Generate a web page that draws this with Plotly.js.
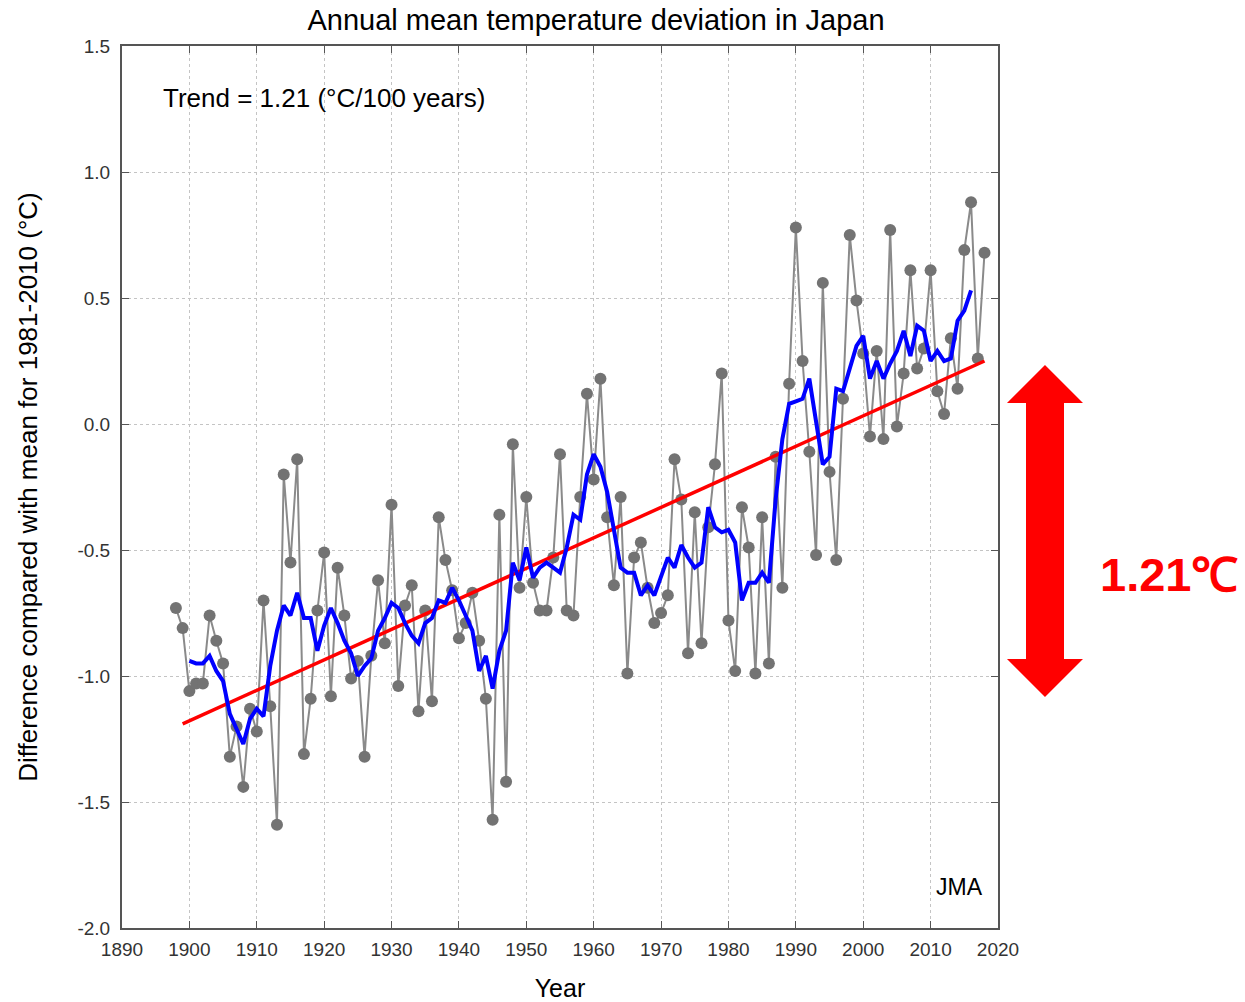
<!DOCTYPE html>
<html>
<head>
<meta charset="utf-8">
<script src="https://cdn.plot.ly/plotly-3.0.1.min.js"></script>
<style>
  html, body { margin: 0; padding: 0; background: #ffffff; }
  #chart { width: 1245px; height: 1002px; }
</style>
</head>
<body>
<div id="chart"></div>
<script>
// ---------- data ----------
const years = [
  1898,1899,1900,1901,1902,1903,1904,1905,1906,1907,1908,1909,1910,1911,1912,1913,1914,1915,1916,1917,
  1918,1919,1920,1921,1922,1923,1924,1925,1926,1927,1928,1929,1930,1931,1932,1933,1934,1935,1936,1937,
  1938,1939,1940,1941,1942,1943,1944,1945,1946,1947,1948,1949,1950,1951,1952,1953,1954,1955,1956,1957,
  1958,1959,1960,1961,1962,1963,1964,1965,1966,1967,1968,1969,1970,1971,1972,1973,1974,1975,1976,1977,
  1978,1979,1980,1981,1982,1983,1984,1985,1986,1987,1988,1989,1990,1991,1992,1993,1994,1995,1996,1997,
  1998,1999,2000,2001,2002,2003,2004,2005,2006,2007,2008,2009,2010,2011,2012,2013,2014,2015,2016,2017,
  2018
];
const annualDeviation = [
  -0.73,-0.81,-1.06,-1.03,-1.03,-0.76,-0.86,-0.95,-1.32,-1.20,-1.44,-1.13,-1.22,-0.70,-1.12,-1.59,-0.20,-0.55,-0.14,-1.31,
  -1.09,-0.74,-0.51,-1.08,-0.57,-0.76,-1.01,-0.94,-1.32,-0.92,-0.62,-0.87,-0.32,-1.04,-0.72,-0.64,-1.14,-0.74,-1.10,-0.37,
  -0.54,-0.66,-0.85,-0.79,-0.67,-0.86,-1.09,-1.57,-0.36,-1.42,-0.08,-0.65,-0.29,-0.63,-0.74,-0.74,-0.53,-0.12,-0.74,-0.76,
  -0.29, 0.12,-0.22, 0.18,-0.37,-0.64,-0.29,-0.99,-0.53,-0.47,-0.65,-0.79,-0.75,-0.68,-0.14,-0.30,-0.91,-0.35,-0.87,-0.41,
  -0.16, 0.20,-0.78,-0.98,-0.33,-0.49,-0.99,-0.37,-0.95,-0.13,-0.65, 0.16, 0.78, 0.25,-0.11,-0.52, 0.56,-0.19,-0.54, 0.10,
   0.75, 0.49, 0.28,-0.05, 0.29,-0.06, 0.77,-0.01, 0.20, 0.61, 0.22, 0.30, 0.61, 0.13, 0.04, 0.34, 0.14, 0.69, 0.88, 0.26,
   0.68
];
const meanYears = [
  1900,1901,1902,1903,1904,1905,1906,1907,1908,1909,1910,1911,1912,1913,1914,1915,1916,1917,1918,1919,
  1920,1921,1922,1923,1924,1925,1926,1927,1928,1929,1930,1931,1932,1933,1934,1935,1936,1937,1938,1939,
  1940,1941,1942,1943,1944,1945,1946,1947,1948,1949,1950,1951,1952,1953,1954,1955,1956,1957,1958,1959,
  1960,1961,1962,1963,1964,1965,1966,1967,1968,1969,1970,1971,1972,1973,1974,1975,1976,1977,1978,1979,
  1980,1981,1982,1983,1984,1985,1986,1987,1988,1989,1990,1991,1992,1993,1994,1995,1996,1997,1998,1999,
  2000,2001,2002,2003,2004,2005,2006,2007,2008,2009,2010,2011,2012,2013,2014,2015,2016
];
const fiveYearMean = [
  -0.94,-0.95,-0.95,-0.92,-0.98,-1.02,-1.15,-1.21,-1.27,-1.17,-1.13,-1.16,-0.96,-0.82,-0.72,-0.76,-0.67,-0.77,-0.77,-0.90,
  -0.80,-0.73,-0.79,-0.86,-0.91,-1.00,-0.96,-0.93,-0.82,-0.77,-0.71,-0.73,-0.79,-0.84,-0.87,-0.79,-0.77,-0.70,-0.71,-0.65,
  -0.70,-0.76,-0.82,-0.98,-0.92,-1.05,-0.90,-0.82,-0.55,-0.62,-0.49,-0.61,-0.57,-0.55,-0.57,-0.59,-0.49,-0.36,-0.38,-0.20,
  -0.12,-0.17,-0.27,-0.42,-0.57,-0.59,-0.59,-0.68,-0.64,-0.68,-0.61,-0.53,-0.57,-0.48,-0.53,-0.57,-0.55,-0.33,-0.41,-0.43,
  -0.42,-0.47,-0.70,-0.63,-0.63,-0.59,-0.63,-0.30,-0.06, 0.08, 0.09, 0.10, 0.18, 0.00,-0.16,-0.13, 0.14, 0.13, 0.22, 0.31,
   0.35, 0.18, 0.25, 0.18, 0.24, 0.29, 0.37, 0.27, 0.39, 0.37, 0.25, 0.29, 0.25, 0.26, 0.41, 0.45, 0.53
];
const trendYears = [1899, 2018];
const trendValues = [-1.19, 0.25];

const xTickVals = [1890,1900,1910,1920,1930,1940,1950,1960,1970,1980,1990,2000,2010,2020];
const xTickText = ['1890','1900','1910','1920','1930','1940','1950','1960','1970','1980','1990','2000','2010','2020'];
const yTickVals = [1.5,1.0,0.5,0.0,-0.5,-1.0,-1.5,-2.0];
const yTickText = ['1.5','1.0','0.5','0.0','-0.5','-1.0','-1.5','-2.0'];

const titleText = 'Annual mean temperature deviation in Japan';
const xTitleText = 'Year';
const yTitleText = 'Difference compared with mean for 1981-2010 (°C)';
const trendLabel = 'Trend = 1.21 (°C/100 years)';
const sourceLabel = 'JMA';
const riseLabel = '1.21℃';

// ---------- layout helpers (pixel -> paper) ----------
const W = 1245, H = 1002;
const M = { l: 122, r: 247, t: 46, b: 74 };
const PW = W - M.l - M.r, PH = H - M.t - M.b;
const px = x => (x - M.l) / PW;
const py = y => 1 - (y - M.t) / PH;

const font = 'Liberation Sans, Arial, Helvetica, sans-serif';

const traces = [
  {
    x: years, y: annualDeviation, type: 'scatter', mode: 'lines+markers',
    line: { color: '#8a8a8a', width: 2 },
    marker: { color: '#737373', size: 12 },
    hoverinfo: 'x+y', showlegend: false
  },
  {
    x: trendYears, y: trendValues, type: 'scatter', mode: 'lines',
    line: { color: '#ff0000', width: 3.5 },
    hoverinfo: 'skip', showlegend: false
  },
  {
    x: meanYears, y: fiveYearMean, type: 'scatter', mode: 'lines',
    line: { color: '#0000ff', width: 4 },
    hoverinfo: 'x+y', showlegend: false
  }
];

// double arrow outline in pixels
const arrowPts = [
  [1045,365],[1083,403],[1064,403],[1064,659],[1083,659],
  [1045,697],[1007,659],[1026,659],[1026,403],[1007,403]
];
const arrowPath = 'M ' + arrowPts.map(p => px(p[0]).toFixed(5) + ',' + py(p[1]).toFixed(5)).join(' L ') + ' Z';

const axisCommon = {
  showline: true, linecolor: '#555555', linewidth: 2, mirror: 'ticks',
  ticks: 'inside', ticklen: 7, tickwidth: 1, tickcolor: '#555555',
  showgrid: true, gridcolor: '#c4c4c4', gridwidth: 1, griddash: 'dot',
  zeroline: false, tickmode: 'array',
  tickfont: { family: font, size: 19, color: '#333333' }
};

const layout = {
  width: W, height: H,
  margin: M,
  paper_bgcolor: '#ffffff', plot_bgcolor: '#ffffff',
  showlegend: false,
  title: {
    text: titleText,
    font: { family: font, size: 29, color: '#000000' },
    xref: 'container', x: 596 / W, xanchor: 'center',
    yref: 'container', y: 1 - 20 / H, yanchor: 'middle'
  },
  xaxis: Object.assign({}, axisCommon, {
    range: [1890, 2020],
    tickvals: xTickVals, ticktext: xTickText,
    ticklabelstandoff: 3,
    title: { text: xTitleText, font: { family: font, size: 25, color: '#000000' }, standoff: 22 }
  }),
  yaxis: Object.assign({}, axisCommon, {
    range: [-2.0, 1.5],
    tickvals: yTickVals, ticktext: yTickText,
    ticklabelstandoff: 6,
    title: { text: yTitleText, font: { family: font, size: 26, color: '#000000' }, standoff: 32 }
  }),
  shapes: [
    { type: 'rect', xref: 'paper', yref: 'paper', layer: 'between',
      x0: px(150), x1: px(530), y0: py(132), y1: py(77),
      fillcolor: '#ffffff', line: { width: 0 } },
    { type: 'rect', xref: 'paper', yref: 'paper', layer: 'between',
      x0: px(905), x1: px(992), y0: py(903), y1: py(861),
      fillcolor: '#ffffff', line: { width: 0 } },
    { type: 'path', xref: 'paper', yref: 'paper', layer: 'above',
      path: arrowPath, fillcolor: '#ff0000', line: { width: 0 } }
  ],
  annotations: [
    { text: trendLabel, xref: 'paper', yref: 'paper',
      x: px(161), y: py(98), xanchor: 'left', yanchor: 'middle', showarrow: false,
      font: { family: font, size: 26, color: '#000000' } },
    { text: sourceLabel, xref: 'paper', yref: 'paper',
      x: px(959), y: py(887), xanchor: 'center', yanchor: 'middle', showarrow: false,
      font: { family: font, size: 23, color: '#000000' } },
    { text: '<b>' + riseLabel + '</b>', xref: 'paper', yref: 'paper',
      x: px(1169), y: py(574), xanchor: 'center', yanchor: 'middle', showarrow: false,
      font: { family: font, size: 47, color: '#ff0000' } }
  ]
};

Plotly.newPlot('chart', traces, layout, { displayModeBar: false, staticPlot: true });
</script>
</body>
</html>
